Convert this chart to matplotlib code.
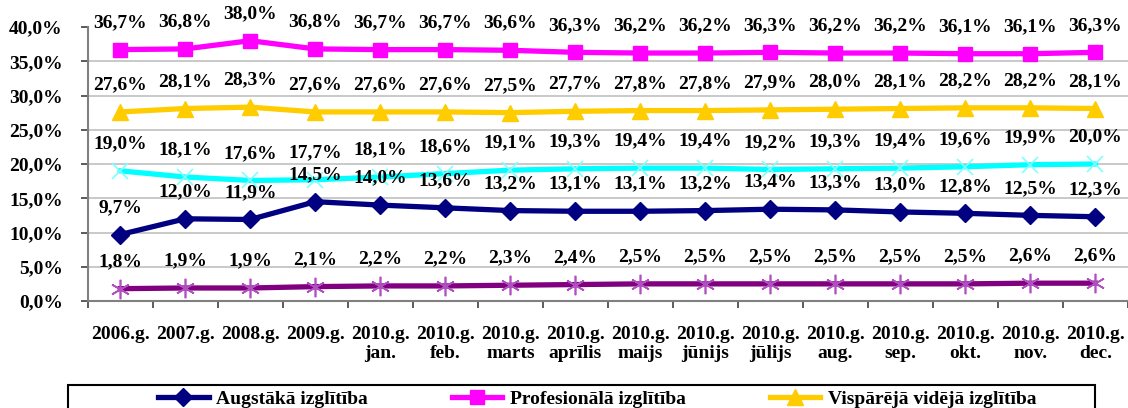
import matplotlib.pyplot as plt
from matplotlib.patches import Rectangle
import numpy as np

plt.rcParams['font.family'] = ['Liberation Serif', 'DejaVu Serif']
plt.rcParams['font.weight'] = 'bold'

periods = ['2006.g.', '2007.g.', '2008.g.', '2009.g.',
           '2010.g.\njan.', '2010.g.\nfeb.', '2010.g.\nmarts', '2010.g.\naprīlis',
           '2010.g.\nmaijs', '2010.g.\njūnijs', '2010.g.\njūlijs', '2010.g.\naug.',
           '2010.g.\nsep.', '2010.g.\nokt.', '2010.g.\nnov.', '2010.g.\ndec.']

augstaka = [9.7, 12.0, 11.9, 14.5, 14.0, 13.6, 13.2, 13.1, 13.1, 13.2, 13.4, 13.3, 13.0, 12.8, 12.5, 12.3]
profesionala = [36.7, 36.8, 38.0, 36.8, 36.7, 36.7, 36.6, 36.3, 36.2, 36.2, 36.3, 36.2, 36.2, 36.1, 36.1, 36.3]
visparejas = [27.6, 28.1, 28.3, 27.6, 27.6, 27.6, 27.5, 27.7, 27.8, 27.8, 27.9, 28.0, 28.1, 28.2, 28.2, 28.1]
pamata = [19.0, 18.1, 17.6, 17.7, 18.1, 18.6, 19.1, 19.3, 19.4, 19.4, 19.2, 19.3, 19.4, 19.6, 19.9, 20.0]
zemaka = [1.8, 1.9, 1.9, 2.1, 2.2, 2.2, 2.3, 2.4, 2.5, 2.5, 2.5, 2.5, 2.5, 2.5, 2.6, 2.6]

# only the first legend row is visible in the source picture
series = [
    ('Augstākā izglītība', augstaka, dict(color='#000080', marker='D', ms=9, mec='#000080')),
    ('Profesionālā izglītība', profesionala, dict(color='#FF00FF', marker='s', ms=10, mec='#FF00FF')),
    ('Vispārējā vidējā izglītība', visparejas, dict(color='#FFCC00', marker='^', ms=12, mec='#FFCC00')),
    (None, pamata, dict(color='#00FFFF', marker='x', ms=12, mec='#7FFFFF', mew=1.2)),
    (None, zemaka, dict(color='#800080', marker=(6, 2, 0), ms=14, mec='#B050C0', mew=1.2)),
]

fig = plt.figure(figsize=(11.28, 4.08), dpi=100)
ax = fig.add_axes([87.7 / 1128, 1 - 301 / 408, 1 - 87.7 / 1128, 274 / 408])

x = np.arange(len(periods))
handles = []
for name, vals, st in series:
    h, = ax.plot(x, vals, lw=3.8, zorder=3, **st)
    if name:
        h.set_label(name)
        handles.append(h)
    for xi, v in zip(x, vals):
        ax.annotate(f'{v:.1f}%'.replace('.', ','), (xi, v), xytext=(0, 19.5),
                    textcoords='offset points', ha='center', va='center',
                    fontsize=14, fontweight='bold', zorder=4)

ax.set_xlim(-0.5, len(periods) - 0.5)
ax.set_ylim(0, 40)
ax.set_yticks(np.arange(0, 41, 5))
ax.set_yticklabels([f'{v:.1f}%'.replace('.', ',') for v in np.arange(0, 41, 5)])
ax.set_xticks(x)
ax.set_xticklabels(periods, linespacing=1.15)
ax.set_xticks(np.arange(-0.5, len(periods)), minor=True)
ax.tick_params(axis='x', which='major', length=0, pad=18, labelsize=14)
ax.tick_params(axis='x', which='minor', length=5, width=1.2, color='#404040', direction='out')
ax.tick_params(axis='y', length=5, width=1.2, color='#404040', direction='out', pad=13, labelsize=14)

ax.grid(axis='y', color='#C0C0C0', lw=1.2, zorder=0)
ax.get_ygridlines()[-1].set_visible(False)
for s in ['top', 'right']:
    ax.spines[s].set_visible(False)
for s in ['left', 'bottom']:
    ax.spines[s].set_color('#808080')
    ax.spines[s].set_linewidth(1.5)

fig.patches.append(Rectangle((68 / 1128, -0.2), (1095 - 68) / 1128, 0.2 + (408 - 385) / 408,
                             transform=fig.transFigure, fill=False, ec='black', lw=1.5))
fig.legend(handles=handles, loc='upper left', ncol=3, frameon=False,
           bbox_to_anchor=(158 / 1128, 1 - 390 / 408), borderaxespad=0, borderpad=0,
           fontsize=14, handlelength=2.6, handletextpad=0.4, columnspacing=4.3)

plt.savefig('out.png', dpi=100)
